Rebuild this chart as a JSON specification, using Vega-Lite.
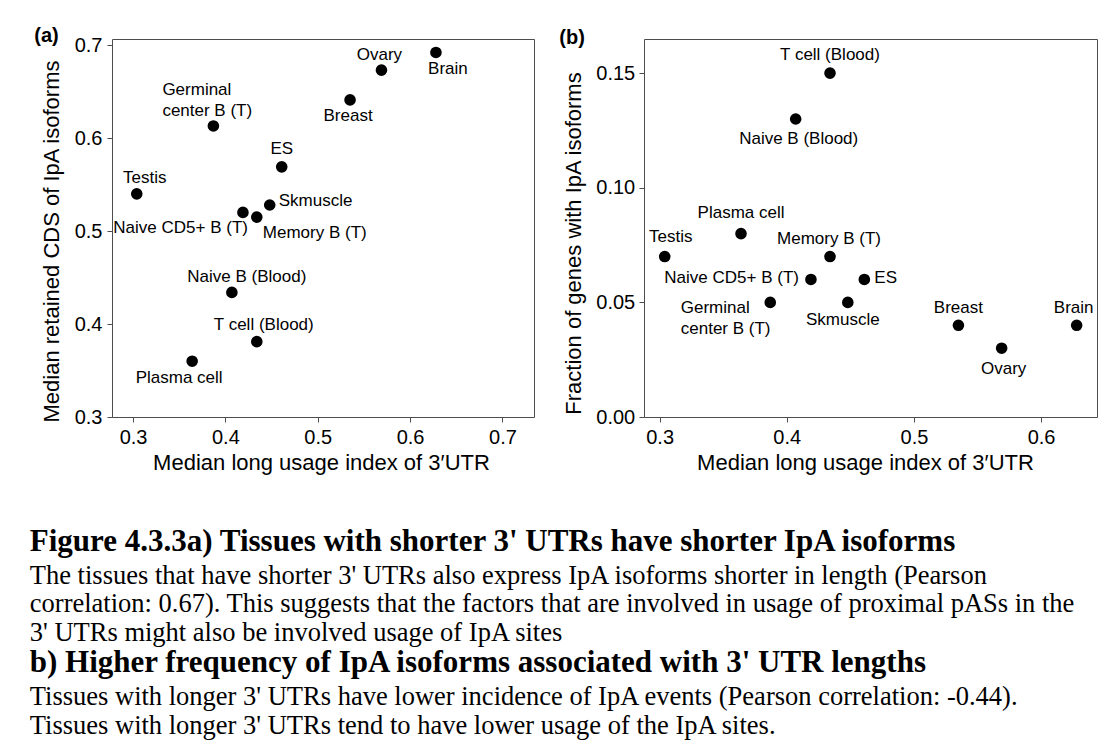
{
  "$schema": "https://vega.github.io/schema/vega-lite/v6.json",
  "padding": {"left": 29, "top": 25, "right": 0, "bottom": 0},
  "background": "white",
  "data": {"values": [
    {"tissue": "Testis", "lui": 0.304, "cds": 0.540, "frac": 0.070},
    {"tissue": "Plasma cell", "lui": 0.364, "cds": 0.360, "frac": 0.080},
    {"tissue": "Germinal\ncenter B (T)", "lui": 0.387, "cds": 0.613, "frac": 0.050},
    {"tissue": "Naive B (Blood)", "lui": 0.407, "cds": 0.434, "frac": 0.130},
    {"tissue": "Naive CD5+ B (T)", "lui": 0.419, "cds": 0.520, "frac": 0.060},
    {"tissue": "T cell (Blood)", "lui": 0.434, "cds": 0.381, "frac": 0.150},
    {"tissue": "Memory B (T)", "lui": 0.434, "cds": 0.515, "frac": 0.070},
    {"tissue": "Skmuscle", "lui": 0.448, "cds": 0.528, "frac": 0.050},
    {"tissue": "ES", "lui": 0.461, "cds": 0.569, "frac": 0.060},
    {"tissue": "Breast", "lui": 0.535, "cds": 0.641, "frac": 0.040},
    {"tissue": "Ovary", "lui": 0.569, "cds": 0.673, "frac": 0.030},
    {"tissue": "Brain", "lui": 0.628, "cds": 0.692, "frac": 0.040}
  ]},
  "title": {
    "text": "b) Higher frequency of IpA isoforms associated with 3' UTR lengths",
    "subtitle": ["Tissues with longer 3' UTRs have lower incidence of IpA events (Pearson correlation: -0.44).", "Tissues with longer 3' UTRs tend to have lower usage of the IpA sites."],
    "orient": "bottom", "anchor": "start", "frame": "bounds", "offset": 2, "dx": 0,
    "font": "Liberation Serif", "fontSize": 31, "fontWeight": "bold", "color": "black",
    "subtitleFont": "Liberation Serif", "subtitleFontSize": 26.5, "subtitleColor": "black",
    "subtitleLineHeight": 29, "subtitlePadding": 5, "limit": 1100
  },
  "vconcat": [
    {
      "title": {
        "text": "Figure 4.3.3a) Tissues with shorter 3' UTRs have shorter IpA isoforms",
        "subtitle": ["The tissues that have shorter 3' UTRs also express IpA isoforms shorter in length (Pearson", "correlation: 0.67). This suggests that the factors that are involved in usage of proximal pASs in the", "3' UTRs might also be involved usage of IpA sites"],
        "orient": "bottom", "anchor": "start", "frame": "bounds", "offset": 53, "dx": -4,
        "font": "Liberation Serif", "fontSize": 31, "fontWeight": "bold", "color": "black",
        "subtitleFont": "Liberation Serif", "subtitleFontSize": 26.5, "subtitleColor": "black",
        "subtitleLineHeight": 28.5, "subtitlePadding": 5, "limit": 1100
      },
      "spacing": 23,
      "hconcat": [
        {
          "width": 422, "height": 378,
          "title": {"text": "(a)", "anchor": "start", "frame": "bounds", "offset": -11, "dx": -6, "font": "Liberation Sans", "fontSize": 20, "fontWeight": "bold", "color": "black"},
          "encoding": {
            "x": {"field": "lui", "type": "quantitative", "scale": {"domain": [0.2772, 0.7342], "nice": false, "zero": false},
                  "axis": {"title": "Median long usage index of 3′UTR", "values": [0.3, 0.4, 0.5, 0.6, 0.7], "format": ".1f", "titleX": 209}},
            "y": {"field": "cds", "type": "quantitative", "scale": {"domain": [0.3, 0.7065], "nice": false, "zero": false},
                  "axis": {"title": "Median retained CDS of IpA isoforms", "values": [0.3, 0.4, 0.5, 0.6, 0.7], "format": ".1f", "labelPadding": 5, "minExtent": 38, "maxExtent": 38, "titlePadding": 10.7, "titleY": 202}}
          },
          "layer": [
            {"mark": {"type": "circle", "size": 135, "color": "black", "opacity": 1}},
            {"transform": [{"filter": {"field": "tissue", "equal": "Brain"}}], "mark": {"type": "text", "dx": 12, "dy": 17}, "encoding": {"text": {"field": "tissue"}}},
            {"transform": [{"filter": {"field": "tissue", "equal": "Ovary"}}], "mark": {"type": "text", "dx": -2, "dy": -15}, "encoding": {"text": {"field": "tissue"}}},
            {"transform": [{"filter": {"field": "tissue", "equal": "Breast"}}], "mark": {"type": "text", "dx": -2, "dy": 16}, "encoding": {"text": {"field": "tissue"}}},
            {"transform": [{"filter": {"field": "tissue", "equal": "Germinal\ncenter B (T)"}}], "mark": {"type": "text", "align": "left", "dx": -51, "dy": -36, "lineBreak": "\n", "lineHeight": 21}, "encoding": {"text": {"field": "tissue"}}},
            {"transform": [{"filter": {"field": "tissue", "equal": "ES"}}], "mark": {"type": "text", "dx": 0, "dy": -18}, "encoding": {"text": {"field": "tissue"}}},
            {"transform": [{"filter": {"field": "tissue", "equal": "Testis"}}], "mark": {"type": "text", "dx": 8, "dy": -16}, "encoding": {"text": {"field": "tissue"}}},
            {"transform": [{"filter": {"field": "tissue", "equal": "Skmuscle"}}], "mark": {"type": "text", "align": "left", "dx": 9, "dy": -4}, "encoding": {"text": {"field": "tissue"}}},
            {"transform": [{"filter": {"field": "tissue", "equal": "Naive CD5+ B (T)"}}], "mark": {"type": "text", "align": "right", "dx": 5, "dy": 16}, "encoding": {"text": {"field": "tissue"}}},
            {"transform": [{"filter": {"field": "tissue", "equal": "Memory B (T)"}}], "mark": {"type": "text", "align": "left", "dx": 6, "dy": 16}, "encoding": {"text": {"field": "tissue"}}},
            {"transform": [{"filter": {"field": "tissue", "equal": "Naive B (Blood)"}}], "mark": {"type": "text", "dx": 15, "dy": -15}, "encoding": {"text": {"field": "tissue"}}},
            {"transform": [{"filter": {"field": "tissue", "equal": "T cell (Blood)"}}], "mark": {"type": "text", "dx": 7, "dy": -17}, "encoding": {"text": {"field": "tissue"}}},
            {"transform": [{"filter": {"field": "tissue", "equal": "Plasma cell"}}], "mark": {"type": "text", "dx": -13, "dy": 17}, "encoding": {"text": {"field": "tissue"}}},
            {"data": {"values": [{"label": "Correlation 0.67"}]}, "mark": {"type": "text", "color": "#ff0000", "fontWeight": "bold", "fontSize": 19},
             "encoding": {"x": {"datum": 0.629}, "y": {"datum": 0.3577}, "text": {"field": "label"}}}
          ]
        },
        {
          "width": 453, "height": 378,
          "title": {"text": "(b)", "anchor": "start", "frame": "bounds", "offset": -9, "dx": -3, "font": "Liberation Sans", "fontSize": 20, "fontWeight": "bold", "color": "black"},
          "encoding": {
            "x": {"field": "lui", "type": "quantitative", "scale": {"domain": [0.2877, 0.644], "nice": false, "zero": false},
                  "axis": {"title": "Median long usage index of 3′UTR", "values": [0.3, 0.4, 0.5, 0.6], "format": ".1f", "titleX": 221}},
            "y": {"field": "frac", "type": "quantitative", "scale": {"domain": [0, 0.1649], "nice": false, "zero": false},
                  "axis": {"title": "Fraction of genes with IpA isoforms", "values": [0, 0.05, 0.1, 0.15], "format": ".2f", "labelPadding": 4.3, "minExtent": 48.4, "maxExtent": 48.4, "titlePadding": 10.3, "titleY": 204}}
          },
          "layer": [
            {"mark": {"type": "circle", "size": 135, "color": "black", "opacity": 1}},
            {"transform": [{"filter": {"field": "tissue", "equal": "T cell (Blood)"}}], "mark": {"type": "text", "dx": 0, "dy": -18}, "encoding": {"text": {"field": "tissue"}}},
            {"transform": [{"filter": {"field": "tissue", "equal": "Naive B (Blood)"}}], "mark": {"type": "text", "dx": 3, "dy": 20}, "encoding": {"text": {"field": "tissue"}}},
            {"transform": [{"filter": {"field": "tissue", "equal": "Plasma cell"}}], "mark": {"type": "text", "dx": 0, "dy": -21}, "encoding": {"text": {"field": "tissue"}}},
            {"transform": [{"filter": {"field": "tissue", "equal": "Testis"}}], "mark": {"type": "text", "dx": 6, "dy": -20}, "encoding": {"text": {"field": "tissue"}}},
            {"transform": [{"filter": {"field": "tissue", "equal": "Memory B (T)"}}], "mark": {"type": "text", "dx": -1, "dy": -18}, "encoding": {"text": {"field": "tissue"}}},
            {"transform": [{"filter": {"field": "tissue", "equal": "Naive CD5+ B (T)"}}], "mark": {"type": "text", "align": "right", "dx": -12, "dy": -1}, "encoding": {"text": {"field": "tissue"}}},
            {"transform": [{"filter": {"field": "tissue", "equal": "ES"}}], "mark": {"type": "text", "align": "left", "dx": 10, "dy": -1}, "encoding": {"text": {"field": "tissue"}}},
            {"transform": [{"filter": {"field": "tissue", "equal": "Germinal\ncenter B (T)"}}], "mark": {"type": "text", "align": "left", "dx": -89.5, "dy": 6, "lineBreak": "\n", "lineHeight": 21}, "encoding": {"text": {"field": "tissue"}}},
            {"transform": [{"filter": {"field": "tissue", "equal": "Skmuscle"}}], "mark": {"type": "text", "dx": -5, "dy": 18}, "encoding": {"text": {"field": "tissue"}}},
            {"transform": [{"filter": {"field": "tissue", "equal": "Breast"}}], "mark": {"type": "text", "dx": 0, "dy": -17}, "encoding": {"text": {"field": "tissue"}}},
            {"transform": [{"filter": {"field": "tissue", "equal": "Brain"}}], "mark": {"type": "text", "dx": -3, "dy": -17}, "encoding": {"text": {"field": "tissue"}}},
            {"transform": [{"filter": {"field": "tissue", "equal": "Ovary"}}], "mark": {"type": "text", "dx": 2, "dy": 21}, "encoding": {"text": {"field": "tissue"}}},
            {"data": {"values": [{"label": "Correlation –0.44"}]}, "mark": {"type": "text", "color": "#ff0000", "fontWeight": "bold", "fontSize": 19},
             "encoding": {"x": {"datum": 0.574}, "y": {"datum": 0.154}, "text": {"field": "label"}}}
          ]
        }
      ]
    }
  ],
  "config": {
    "font": "Liberation Sans",
    "view": {"stroke": "#4d4d4d", "strokeWidth": 1},
    "axis": {"domain": false, "grid": false, "tickColor": "#4d4d4d", "tickSize": 5, "tickWidth": 1,
             "labelFont": "Liberation Sans", "labelFontSize": 20, "labelColor": "black",
             "titleFont": "Liberation Sans", "titleFontSize": 22, "titleFontWeight": "normal", "titleColor": "black"},
    "axisX": {"labelPadding": 5, "minExtent": 30, "maxExtent": 30, "titlePadding": 5},
    "text": {"font": "Liberation Sans", "fontSize": 17, "color": "black"}
  }
}
